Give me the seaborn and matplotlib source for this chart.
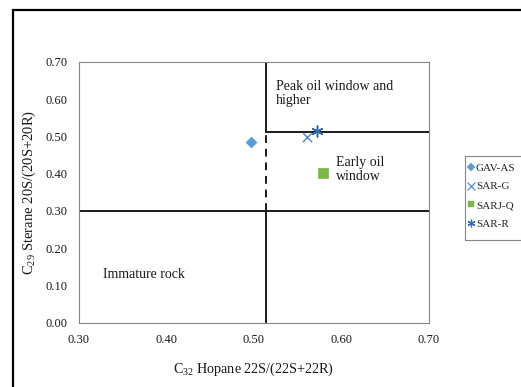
import matplotlib
matplotlib.use("Agg")
import matplotlib.pyplot as plt
import seaborn as sns
import pandas as pd
from matplotlib.patches import Rectangle
from matplotlib.lines import Line2D

# ---- data ----
samples = ["GAV-AS", "SAR-G", "SARJ-Q", "SAR-R"]
hopane_22s = [0.497, 0.561, 0.579, 0.573]
sterane_20s = [0.484, 0.498, 0.403, 0.515]
x_ticks = [0.30, 0.40, 0.50, 0.60, 0.70]
y_ticks = [0.00, 0.10, 0.20, 0.30, 0.40, 0.50, 0.60, 0.70]
hopane_boundary = 0.514     # vertical boundary
sterane_low = 0.30          # immature boundary
sterane_peak = 0.513        # peak oil boundary

colors = {"GAV-AS": "#5B9BD5", "SAR-G": "#5B8FD0", "SARJ-Q": "#7AB648", "SAR-R": "#2F6AAE"}
markers = {"GAV-AS": "D", "SAR-G": "x", "SARJ-Q": "s", "SAR-R": (6, 2, 0)}
sizes = {"GAV-AS": 30, "SAR-G": 45, "SARJ-Q": 60, "SAR-R": 60}

df = pd.DataFrame({"sample": samples, "hopane": hopane_22s, "sterane": sterane_20s})

sns.set_theme(style="white")
plt.rcParams["font.family"] = ["Liberation Serif", "DejaVu Serif"]
plt.rcParams["mathtext.fontset"] = "custom"
plt.rcParams["mathtext.rm"] = "Liberation Serif"

fig = plt.figure(figsize=(5.21, 3.87), dpi=100)
ax = fig.add_axes([0.1507, 0.1661, 0.6718, 0.6737])

# boundary lines
lc = "#1a1a1a"
lw = 1.4
ax.plot([0.30, 0.70], [sterane_low, sterane_low], color=lc, lw=lw, zorder=2)
ax.plot([hopane_boundary, 0.70], [sterane_peak, sterane_peak], color=lc, lw=lw, zorder=2)
ax.plot([hopane_boundary, hopane_boundary], [sterane_peak, 0.70], color=lc, lw=lw, zorder=2)
ax.plot([hopane_boundary, hopane_boundary], [0.0, sterane_low], color=lc, lw=lw, zorder=2)
ax.plot([hopane_boundary, hopane_boundary], [sterane_low, sterane_peak], color=lc, lw=lw,
        ls=(0, (4, 3)), zorder=2)

handles = []
for s in samples:
    sub = df[df["sample"] == s]
    m = markers[s]
    filled = m in ("D", "s")
    kw = dict(marker=m, s=sizes[s], color=colors[s], ax=ax, zorder=3, legend=False)
    if filled:
        kw["edgecolor"] = colors[s]
        kw["linewidth"] = 0.5
    else:
        kw["linewidth"] = 1.1
    sns.scatterplot(data=sub, x="hopane", y="sterane", **kw)
    handles.append(Line2D([], [], ls="none", marker=m, color=colors[s],
                          markerfacecolor=colors[s], markeredgecolor=colors[s],
                          markersize=4.5 if filled else 5.5, markeredgewidth=0.9 if not filled else 0.3,
                          label=s))

ax.set_xlim(0.30, 0.70)
ax.set_ylim(0.0, 0.70)
ax.set_xticks(x_ticks)
ax.set_yticks(y_ticks)
ax.set_xticklabels([f"{v:.2f}" for v in x_ticks])
ax.set_yticklabels([f"{v:.2f}" for v in y_ticks])
for sp in ax.spines.values():
    sp.set_color("#868686")
    sp.set_linewidth(0.8)
ax.tick_params(axis="x", direction="in", length=3, width=0.8, color="#868686",
               labelsize=9, pad=8, labelcolor="#1a1a1a")
ax.tick_params(axis="y", direction="out", length=3, width=0.8, color="#868686",
               labelsize=9, pad=5, labelcolor="#1a1a1a")
ax.set_xlabel(r"C$_{32}$ Hopane 22S/(22S+22R)", fontsize=10.2, labelpad=11, color="#1a1a1a")
ax.set_ylabel(r"C$_{29}$ Sterane 20S/(20S+20R)", fontsize=10.5, labelpad=5, color="#1a1a1a")

ax.text(0.526, 0.652, "Peak oil window and\nhigher", fontsize=10, va="top", ha="left",
        linespacing=1.15, color="#1a1a1a")
ax.text(0.594, 0.412, "Early oil\nwindow", fontsize=10, va="center", ha="left",
        linespacing=1.15, color="#1a1a1a")
ax.text(0.328, 0.13, "Immature rock", fontsize=10, va="center", ha="left", color="#1a1a1a")

# legend
leg = fig.legend(handles=handles, loc="upper left", bbox_to_anchor=(467 / 521, 1 - 163 / 387),
                 frameon=False, fontsize=8, handlelength=0.7, handletextpad=0.1,
                 labelspacing=0.8, borderaxespad=0, borderpad=0)
fig.add_artist(Rectangle((465 / 521, 1 - 240 / 387), 0.2, 84 / 387, transform=fig.transFigure,
                         fill=False, edgecolor="#868686", lw=0.8))

# outer chart border
fig.add_artist(Rectangle((13 / 521, -0.1), 1.2, 1.1 - 10 / 387, transform=fig.transFigure,
                         fill=False, edgecolor="black", lw=1.6))

fig.savefig("out.png", dpi=100)
